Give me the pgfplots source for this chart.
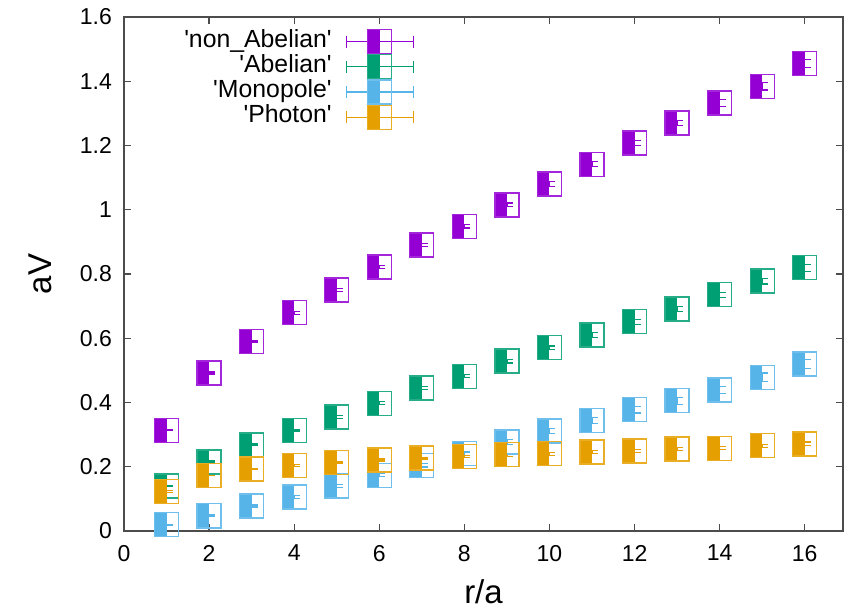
\documentclass[border=0pt]{standalone}
\usepackage{fontspec}
\setmainfont{Liberation Sans}[Ligatures=TeXOff]
\usepackage{pgfplots}
\usepackage{pgfplotstable}
\pgfplotsset{compat=1.18}

\definecolor{purp}{HTML}{9400D3}
\definecolor{grn}{HTML}{009E73}
\definecolor{blu}{HTML}{56B4E9}
\definecolor{org}{HTML}{E69F00}

% gnuplot style square: left half filled, right half open
\pgfdeclareplotmark{halfsq}{%
  \pgfpathrectangle{\pgfqpoint{-\pgfplotmarksize}{-\pgfplotmarksize}}{\pgfqpoint{\pgfplotmarksize}{2\pgfplotmarksize}}%
  \pgfusepathqfill
  \pgfpathrectangle{\pgfqpoint{-\pgfplotmarksize}{-\pgfplotmarksize}}{\pgfqpoint{2\pgfplotmarksize}{2\pgfplotmarksize}}%
  \pgfusepathqstroke
}

\pgfplotsset{
  hsleg/.style={legend image code/.code={%
    \draw[#1,line width=0.6pt] (0pt,0pt)--(33.5pt,0pt) (0pt,-3pt)--(0pt,3pt) (33.5pt,-3pt)--(33.5pt,3pt);
    \fill[#1] (10.75pt,-6pt) rectangle (16.75pt,6pt);
    \draw[#1!85,line width=0.6pt] (10.75pt,-6pt) rectangle (22.75pt,6pt);
  }},
  errs/.style={forget plot, draw=none, mark=none,
    error bars/.cd, y dir=both, y explicit, error mark=-,
    error bar style={draw=#1, solid, line width=0.6pt},
    error mark options={draw=#1, mark size=3pt, line width=0.6pt, rotate=90}},
  pts/.style={only marks, mark=halfsq, mark size=6pt,
    mark options={solid, fill=#1, draw=#1!85, line width=0.6pt}, hsleg=#1},
}

\pgfplotstableread{
r  non   enon  abel  eabel mono  emono phot  ephot
1  0.314 0.002 0.140 0.002 0.019 0.002 0.123 0.002
2  0.492 0.003 0.215 0.003 0.047 0.003 0.174 0.002
3  0.591 0.003 0.268 0.003 0.078 0.003 0.193 0.002
4  0.679 0.004 0.314 0.003 0.106 0.004 0.205 0.003
5  0.750 0.004 0.355 0.004 0.140 0.004 0.212 0.003
6  0.822 0.005 0.398 0.004 0.174 0.005 0.221 0.003
7  0.890 0.005 0.445 0.005 0.205 0.006 0.227 0.003
8  0.949 0.006 0.482 0.005 0.240 0.006 0.233 0.003
9  1.015 0.006 0.529 0.006 0.277 0.007 0.237 0.004
10 1.080 0.007 0.570 0.006 0.311 0.008 0.240 0.004
11 1.142 0.008 0.610 0.007 0.344 0.009 0.246 0.004
12 1.208 0.008 0.651 0.007 0.377 0.010 0.249 0.004
13 1.270 0.009 0.691 0.008 0.405 0.011 0.255 0.005
14 1.332 0.010 0.735 0.008 0.439 0.012 0.258 0.005
15 1.384 0.011 0.778 0.009 0.479 0.013 0.265 0.005
16 1.455 0.012 0.819 0.010 0.520 0.014 0.271 0.006
}\data

\begin{document}
\begin{tikzpicture}
\begin{axis}[
  scale only axis, width=359.5pt, height=257pt,
  xmin=0, xmax=16.9, ymin=0, ymax=1.6,
  xtick={0,2,4,6,8,10,12,14,16},
  ytick={0,0.2,0.4,0.6,0.8,1,1.2,1.4,1.6},
  tick align=inside, major tick length=3.5pt,
  axis line style={black!70, line width=0.6pt},
  tick style={black!70, line width=0.6pt},
  ticklabel style={font=\fontsize{11.5}{13}\selectfont},
  xticklabel style={yshift=-3.5pt},
  yticklabel style={xshift=-2.5pt},
  /pgf/number format/assume math mode=true,
  xlabel={r/a}, ylabel={aV},
  label style={font=\fontsize{16.5}{18}\selectfont},
  xlabel style={at={(axis description cs:0.5,0)}, anchor=base, yshift=-36pt},
  ylabel style={at={(axis description cs:0,0.5)}, anchor=center, yshift=42pt},
  legend plot pos=right, legend cell align=right,
  legend style={draw=none, fill=none, at={(rel axis cs:0.412,0.985)}, anchor=north east,
    font=\fontsize{12.4}{14}\selectfont, column sep=7pt,
    nodes={inner sep=0pt, text height=8.9pt, text depth=3.35pt}},
]
\addplot[errs=purp] table[x=r, y=non, y error=enon]{\data};
\addplot[pts=purp] table[x=r, y=non]{\data};
\addlegendentry{'non\_Abelian'}
\addplot[errs=grn] table[x=r, y=abel, y error=eabel]{\data};
\addplot[pts=grn] table[x=r, y=abel]{\data};
\addlegendentry{'Abelian'}
\addplot[errs=blu] table[x=r, y=mono, y error=emono]{\data};
\addplot[pts=blu] table[x=r, y=mono]{\data};
\addlegendentry{'Monopole'}
\addplot[errs=org] table[x=r, y=phot, y error=ephot]{\data};
\addplot[pts=org] table[x=r, y=phot]{\data};
\addlegendentry{'Photon'}
\end{axis}
\pgfresetboundingbox
\path[use as bounding box] ([xshift=-62pt,yshift=-38.5pt]current axis.south west) rectangle ([xshift=2.5pt,yshift=8.5pt]current axis.north east);
\end{tikzpicture}
\end{document}
